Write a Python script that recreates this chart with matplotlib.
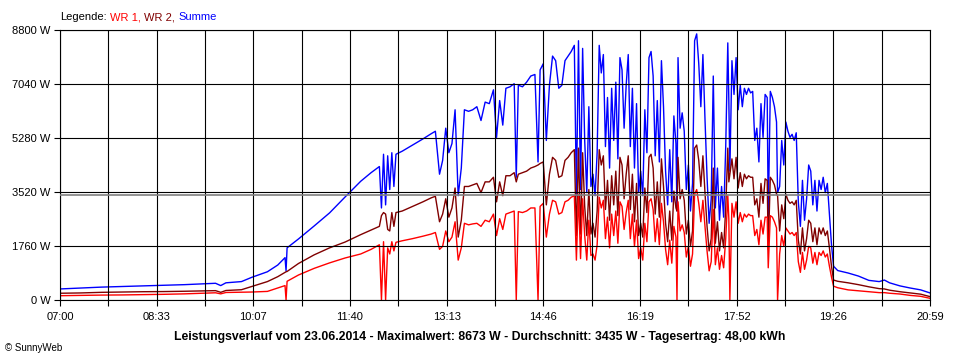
import matplotlib
matplotlib.use('Agg')
import matplotlib.pyplot as plt
import numpy as np

plt.rcParams['font.family'] = ['Liberation Sans', 'DejaVu Sans']

# Minuten ab 07:00 und Leistung in W
t = [0, 20, 40, 60, 80, 100, 120, 140, 150, 155, 160, 175, 185, 200, 210, 217, 218, 219, 230, 245,
     260, 275, 290, 300, 306,
     308, 310, 312, 314, 316, 318, 320, 322, 324, 330, 340, 350, 358, 362,
     366, 369, 372, 375, 378, 381, 384, 387, 390, 394, 398, 402, 406, 410, 414, 418, 421, 424, 427,
     430, 434, 438, 440, 442, 446, 450, 454, 458, 461, 463, 466, 469, 472, 475, 478, 481, 484, 487,
     490, 493, 496, 498,
     500, 502, 504, 506, 508, 510, 512, 514, 516, 518, 520, 522, 524, 526, 528, 530, 532, 534, 536,
     538, 540, 542, 544, 546, 548, 550, 552, 554, 556, 558, 560, 562, 564, 566, 568, 570, 572, 574,
     576, 578, 580, 582, 584, 586, 588, 590, 592, 594, 595, 596, 598, 600, 602, 604, 606, 608, 610,
     612, 614, 616, 618, 620, 622, 624, 626, 628, 630, 632, 634, 636, 638, 640, 642, 644, 645, 646,
     648, 650, 652, 654, 656, 658, 660, 662, 664, 666, 668, 670, 672, 674, 676, 678, 680, 682, 683,
     685, 687, 689, 691, 692, 694, 696, 698, 700, 702, 704, 706, 708, 710, 712, 714, 716, 718, 720,
     722, 724, 726, 728, 730, 732, 734, 736, 738, 740, 742, 744, 746,
     750, 760, 770, 780, 790, 795, 800, 810, 820, 830, 839]

summe = [360, 390, 420, 440, 460, 480, 500, 530, 545, 470, 560, 600, 740, 920, 1140, 1380, 950, 1700, 1990, 2410,
         2840, 3360, 3870, 4150, 4300,
         4350, 3000, 4750, 3100, 4700, 3600, 4800, 3700, 4750, 4850, 5050, 5250, 5420, 5500,
         4100, 4550, 5600, 4800, 5100, 6200, 3400, 4300, 6200, 6150, 6200, 6300, 5850, 6450, 6400, 6850, 5300, 6500, 5700,
         6900, 6950, 7050, 4000, 7000, 6950, 7100, 7300, 7350, 4500, 7500, 7700, 5200, 7000, 7950, 7800, 6900, 7000, 7800,
         7950, 8100, 8300, 3400,
         8450, 3600, 8200, 5200, 3500, 6300, 3700, 4100, 3400, 4800, 8300, 7400, 8000, 5000, 6600, 4300, 6900, 5200, 7100,
         4600, 7900, 7500, 5600, 7000, 8000, 5000, 6900, 4300, 6400, 3500, 4200, 3400, 6200, 4800, 7900, 8100, 7300, 4700,
         6500, 4500, 7800, 6300, 4200, 3100, 4900, 3200, 6000, 5100, 2900, 7900, 5600, 6100, 5500, 3600, 4400, 2900, 3800,
         8450, 8673, 7700, 6300, 8000, 5900, 4000, 2500, 3300, 7300, 3000, 4300, 2600, 3700, 2700, 5000, 8380, 6500, 4200,
         7800, 6700, 7900, 6200, 7000, 6300, 6900, 6700, 6900, 6750, 6800, 5200, 5600, 4500, 6400, 5300, 6700, 6600, 2700,
         6800, 6600, 6300, 5800, 3500, 3700, 5200, 4400, 5800, 5500, 5300, 5400, 5200, 5450, 3200, 2400, 3900, 2600, 3300,
         4400, 4200, 3100, 3900, 2900, 3900, 3600, 4000, 3500, 3800, 2800, 1800, 1100,
         960, 880, 780, 640, 600, 650, 560, 460, 390, 330, 230]

wr2 = [220, 230, 250, 260, 270, 275, 285, 300, 305, 250, 310, 335, 440, 600, 760, 900, 920, 930, 1190, 1470,
       1700, 1890, 2130, 2280, 2370,
       2400, 2750, 2850, 2800, 2300, 2250, 2850, 2400, 2850, 2900, 3050, 3200, 3330, 3380,
       2550, 2800, 3300, 2700, 3000, 3650, 2050, 2600, 3700, 3700, 3750, 3800, 3500, 3850, 3850, 4000, 3200, 3850, 3400,
       4050, 4050, 4150, 3850, 4100, 4150, 4200, 4300, 4350, 4400, 4450, 4500, 3100, 4100, 4650, 4550, 4000, 4050, 4550,
       4650, 4800, 4900, 2100,
       4950, 2150, 4800, 3050, 2100, 3600, 2150, 2500, 2050, 2900, 4900, 4400, 4700, 2950, 3900, 2600, 4050, 3100, 4200,
       2750, 4650, 4400, 3300, 4100, 4700, 2950, 4100, 2550, 3800, 2100, 2500, 2050, 3650, 2850, 4650, 4750, 4300, 2800,
       3850, 2700, 4600, 3700, 2500, 1900, 2900, 1950, 3550, 3000, 2900, 4650, 3300, 3600, 3250, 2150, 2600, 1750, 2250,
       4950, 5050, 4550, 3700, 4700, 3500, 2400, 1600, 2000, 4300, 1850, 2550, 1600, 2200, 1700, 3000, 4950, 3850, 4100,
       4600, 3950, 4650, 3650, 4150, 3700, 4100, 3950, 4050, 4000, 4000, 3100, 3300, 2700, 3800, 3150, 3950, 3900, 1650,
       4000, 3900, 3750, 3450, 3400, 2250, 3100, 2650, 3450, 3250, 3150, 3200, 3100, 3250, 1950, 1500, 2350, 1600, 2000,
       2600, 2500, 1900, 2350, 1800, 2350, 2150, 2350, 2100, 2250, 1700, 1100, 650,
       610, 560, 500, 430, 370, 360, 320, 270, 230, 190, 110]

wr1 = [140, 150, 160, 165, 175, 185, 200, 225, 235, 200, 245, 255, 260, 280, 390, 470, 0, 610, 815, 1030,
       1210, 1370, 1500, 1650, 1760,
       1800, 0, 1900, 0, 1700, 1500, 1900, 1600, 1880, 1930, 2000, 2080, 2150, 2200,
       1650, 1750, 2250, 1900, 2050, 2550, 1300, 1700, 2500, 2450, 2480, 2500, 2400, 2600, 2550, 2800, 2100, 2650, 2300,
       2800, 2850, 2900, 0, 2880, 2850, 2900, 3000, 3000, 0, 3050, 3150, 2050, 2800, 3250, 3200, 2800, 2850, 3200,
       3250, 3350, 3400, 1300,
       3450, 1350, 3300, 2100, 1300, 2600, 1450, 1500, 1300, 1800, 3350, 3000, 3250, 2000, 2700, 1700, 2800, 2100, 2900,
       1850, 3200, 3050, 2300, 2850, 3250, 2000, 2800, 1750, 2600, 1350, 1700, 1300, 2500, 1900, 3200, 3300, 2950, 1900,
       2650, 1800, 3150, 2550, 1650, 1150, 1950, 1200, 2400, 2050, 0, 3200, 2250, 2450, 2200, 1400, 1750, 1100, 1500,
       3450, 3600, 3150, 2550, 3250, 2400, 1600, 950, 1250, 2950, 1150, 1700, 1000, 1450, 1050, 2000, 3400, 2650, 0,
       3150, 2700, 3200, 2500, 2850, 2550, 2800, 2700, 2800, 2750, 2750, 2100, 2300, 1800, 2600, 2150, 2700, 2700, 1050,
       2750, 2700, 2550, 2350, 0, 1500, 2100, 1750, 2350, 2250, 2150, 2200, 2100, 2200, 1250, 900, 1550, 1000, 1300,
       1750, 1700, 1200, 1550, 1150, 1550, 1450, 1600, 1400, 1500, 1100, 750, 450,
       400, 330, 300, 270, 240, 240, 220, 195, 150, 120, 55]

durchschnitt = 3435
x_labels = ['07:00', '08:33', '10:07', '11:40', '13:13', '14:46', '16:19', '17:52', '19:26', '20:59']
y_ticks = [0, 1760, 3520, 5280, 7040, 8800]

fig = plt.figure(figsize=(9.6, 3.6), dpi=100)
ax = fig.add_axes([60/960, 60/360, 870/960, 270/360])

ax.plot(t, summe, color='#0000ff', lw=1.0, zorder=2)
ax.plot(t, wr2, color='#800000', lw=1.0, zorder=2)
ax.plot(t, wr1, color='#ff0000', lw=1.0, zorder=2)
ax.axhline(durchschnitt, color='#808080', lw=1.2, zorder=2.6)

ax.set_xlim(0, 839)
ax.set_ylim(0, 8800)
major = np.linspace(0, 839, 10)
minor = (major[:-1] + major[1:]) / 2
ax.set_xticks(major)
ax.set_xticklabels(x_labels)
ax.set_xticks(minor, minor=True)
ax.set_yticks(y_ticks)
ax.set_yticklabels([f'{v} W' for v in y_ticks])

ax.set_axisbelow(False)
ax.grid(which='both', axis='x', color='black', lw=0.8)
ax.grid(which='major', axis='y', color='black', lw=0.8)
ax.tick_params(which='both', direction='out', length=4, width=0.8, color='black', labelsize=8)
ax.tick_params(axis='x', which='both', pad=5)
ax.tick_params(axis='y', pad=3)
for s in ax.spines.values():
    s.set_linewidth(0.8)
    s.set_color('black')

fig.text(0.5, 1 - 337/360, 'Leistungsverlauf vom 23.06.2014 - Maximalwert: 8673 W - Durchschnitt: 3435 W - '
         'Tagesertrag: 48,00 kWh', ha='center', va='center', fontsize=8.8, fontweight='bold')
fig.text(5/960, 1 - 348/360, '© SunnyWeb', ha='left', va='center', fontsize=7)

# Legende, farbige Teile hintereinander
fig.canvas.draw()
r = fig.canvas.get_renderer()
xpos = 60
for txt, col in [('Legende:', 'black'), ('WR 1,', '#ff0000'), ('WR 2,', '#800000'), ('Summe', '#0000ff')]:
    tt = fig.text(xpos/960, 1 - 17/360, txt, color=col, fontsize=8, ha='left', va='center')
    bb = tt.get_window_extent(r)
    xpos = bb.x1 + 3.5

fig.savefig('out.png', dpi=100)
